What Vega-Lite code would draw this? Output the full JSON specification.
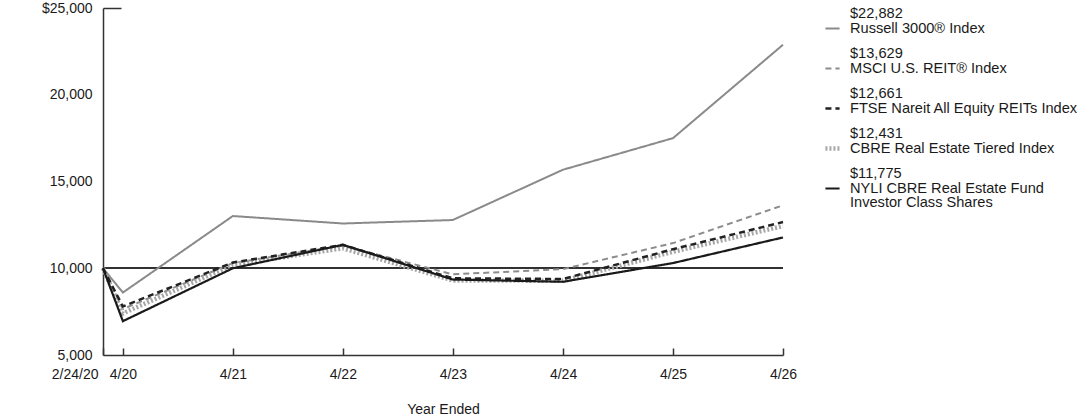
{
  "$schema": "https://vega.github.io/schema/vega-lite/v6.json",
  "width": 680,
  "height": 347,
  "autosize": {"type": "none"},
  "padding": {"left": 103, "top": 8, "right": 309, "bottom": 62},
  "background": "white",
  "config": {
    "font": "Liberation Sans",
    "view": {"stroke": null},
    "axis": {"labelFont": "Liberation Sans", "titleFont": "Liberation Sans", "labelFontSize": 14, "titleFontSize": 14, "labelColor": "#1a1a1a", "titleColor": "#1a1a1a", "titleFontWeight": "normal", "grid": false, "domainColor": "#333333", "domainWidth": 1.5, "tickColor": "#333333", "tickWidth": 1.5}
  },
  "data": {
    "values": [
      {"date": "2020-02-24", "series": "Russell 3000® Index", "value": 10000},
      {"date": "2020-04-30", "series": "Russell 3000® Index", "value": 8600},
      {"date": "2021-04-30", "series": "Russell 3000® Index", "value": 13010},
      {"date": "2022-04-30", "series": "Russell 3000® Index", "value": 12580},
      {"date": "2023-04-30", "series": "Russell 3000® Index", "value": 12780},
      {"date": "2024-04-30", "series": "Russell 3000® Index", "value": 15680},
      {"date": "2025-04-30", "series": "Russell 3000® Index", "value": 17500},
      {"date": "2026-04-30", "series": "Russell 3000® Index", "value": 22882},
      {"date": "2020-02-24", "series": "MSCI U.S. REIT® Index", "value": 10000},
      {"date": "2020-04-30", "series": "MSCI U.S. REIT® Index", "value": 7650},
      {"date": "2021-04-30", "series": "MSCI U.S. REIT® Index", "value": 10300},
      {"date": "2022-04-30", "series": "MSCI U.S. REIT® Index", "value": 11300},
      {"date": "2023-04-30", "series": "MSCI U.S. REIT® Index", "value": 9650},
      {"date": "2024-04-30", "series": "MSCI U.S. REIT® Index", "value": 9950},
      {"date": "2025-04-30", "series": "MSCI U.S. REIT® Index", "value": 11450},
      {"date": "2026-04-30", "series": "MSCI U.S. REIT® Index", "value": 13629},
      {"date": "2020-02-24", "series": "CBRE Real Estate Tiered Index", "value": 10000},
      {"date": "2020-04-30", "series": "CBRE Real Estate Tiered Index", "value": 7400},
      {"date": "2021-04-30", "series": "CBRE Real Estate Tiered Index", "value": 10200},
      {"date": "2022-04-30", "series": "CBRE Real Estate Tiered Index", "value": 11150},
      {"date": "2023-04-30", "series": "CBRE Real Estate Tiered Index", "value": 9300},
      {"date": "2024-04-30", "series": "CBRE Real Estate Tiered Index", "value": 9280},
      {"date": "2025-04-30", "series": "CBRE Real Estate Tiered Index", "value": 10950},
      {"date": "2026-04-30", "series": "CBRE Real Estate Tiered Index", "value": 12431},
      {"date": "2020-02-24", "series": "FTSE Nareit All Equity REITs Index", "value": 10000},
      {"date": "2020-04-30", "series": "FTSE Nareit All Equity REITs Index", "value": 7800},
      {"date": "2021-04-30", "series": "FTSE Nareit All Equity REITs Index", "value": 10330},
      {"date": "2022-04-30", "series": "FTSE Nareit All Equity REITs Index", "value": 11350},
      {"date": "2023-04-30", "series": "FTSE Nareit All Equity REITs Index", "value": 9420},
      {"date": "2024-04-30", "series": "FTSE Nareit All Equity REITs Index", "value": 9380},
      {"date": "2025-04-30", "series": "FTSE Nareit All Equity REITs Index", "value": 11100},
      {"date": "2026-04-30", "series": "FTSE Nareit All Equity REITs Index", "value": 12661},
      {"date": "2020-02-24", "series": "NYLI CBRE Real Estate Fund Investor Class Shares", "value": 10000},
      {"date": "2020-04-30", "series": "NYLI CBRE Real Estate Fund Investor Class Shares", "value": 6950},
      {"date": "2021-04-30", "series": "NYLI CBRE Real Estate Fund Investor Class Shares", "value": 10000},
      {"date": "2022-04-30", "series": "NYLI CBRE Real Estate Fund Investor Class Shares", "value": 11350},
      {"date": "2023-04-30", "series": "NYLI CBRE Real Estate Fund Investor Class Shares", "value": 9350},
      {"date": "2024-04-30", "series": "NYLI CBRE Real Estate Fund Investor Class Shares", "value": 9220},
      {"date": "2025-04-30", "series": "NYLI CBRE Real Estate Fund Investor Class Shares", "value": 10300},
      {"date": "2026-04-30", "series": "NYLI CBRE Real Estate Fund Investor Class Shares", "value": 11775}
    ]
  },
  "encoding": {
    "x": {
      "field": "date", "type": "temporal",
      "scale": {"type": "utc", "domain": [{"year": 2020, "month": 2, "date": 24, "utc": true}, {"year": 2026, "month": 4, "date": 30, "utc": true}], "nice": false},
      "axis": {
        "title": "Year Ended", "titlePadding": 21,
        "values": [
          {"year": 2020, "month": 2, "date": 24, "utc": true},
          {"year": 2020, "month": 4, "date": 30, "utc": true},
          {"year": 2021, "month": 4, "date": 30, "utc": true},
          {"year": 2022, "month": 4, "date": 30, "utc": true},
          {"year": 2023, "month": 4, "date": 30, "utc": true},
          {"year": 2024, "month": 4, "date": 30, "utc": true},
          {"year": 2025, "month": 4, "date": 30, "utc": true},
          {"year": 2026, "month": 4, "date": 30, "utc": true}
        ],
        "labelExpr": "utcmonth(datum.value) == 1 ? '2/24/20' : utcFormat(datum.value, '%-m/%y')",
        "labelAlign": {"condition": {"test": "utcmonth(datum.value) == 1", "value": "right"}, "value": "center"},
        "labelOffset": {"condition": {"test": "utcmonth(datum.value) == 1", "value": -5}, "value": 0},
        "tickSize": -7, "labelPadding": 19, "labelFlush": false, "labelOverlap": false
      }
    },
    "y": {
      "field": "value", "type": "quantitative",
      "scale": {"domain": [5000, 25000], "nice": false, "zero": false},
      "axis": {
        "title": null,
        "values": [5000, 10000, 15000, 20000, 25000],
        "labelExpr": "datum.value == 25000 ? '$25,000' : format(datum.value, ',')",
        "tickSize": -18,
        "tickColor": {"condition": {"test": "datum.value == 25000", "value": "#333333"}, "value": "transparent"},
        "labelPadding": 29
      }
    }
  },
  "layer": [
    {
      "mark": {"type": "rule", "color": "#333333", "strokeWidth": 1.2},
      "encoding": {"y": {"datum": 10000}, "x": null}
    },
    {
      "mark": {"type": "line", "strokeCap": "butt"},
      "encoding": {
        "color": {
          "field": "series", "type": "nominal",
          "scale": {
            "domain": ["Russell 3000® Index", "MSCI U.S. REIT® Index", "FTSE Nareit All Equity REITs Index", "CBRE Real Estate Tiered Index", "NYLI CBRE Real Estate Fund Investor Class Shares"],
            "range": ["#8a8a8a", "#8c8c8c", "#222222", "#a6a6a6", "#1a1a1a"]
          },
          "legend": {
            "title": null, "orient": "none", "legendX": 720, "legendY": 12,
            "symbolType": "stroke", "symbolSize": 200, "labelOffset": 8,
            "labelFontSize": 14.6, "labelColor": "#1a1a1a", "labelLimit": 400, "labelBaseline": "middle",
            "rowPadding": -4, "padding": 0,
            "labelExpr": "datum.label == 'Russell 3000® Index' ? ['$22,882', 'Russell 3000® Index', ''] : datum.label == 'MSCI U.S. REIT® Index' ? ['$13,629', 'MSCI U.S. REIT® Index', ''] : datum.label == 'FTSE Nareit All Equity REITs Index' ? ['$12,661', 'FTSE Nareit All Equity REITs Index', ''] : datum.label == 'CBRE Real Estate Tiered Index' ? ['$12,431', 'CBRE Real Estate Tiered Index', ''] : ['$11,775', 'NYLI CBRE Real Estate Fund', 'Investor Class Shares']",
            "encode": {"labels": {"update": {"lineHeight": {"value": 14.5}, "dy": {"value": -14.5}}}}
          }
        },
        "strokeDash": {
          "field": "series", "type": "nominal",
          "scale": {
            "domain": ["Russell 3000® Index", "MSCI U.S. REIT® Index", "FTSE Nareit All Equity REITs Index", "CBRE Real Estate Tiered Index", "NYLI CBRE Real Estate Fund Investor Class Shares"],
            "range": [[1, 0], [6, 4], [6, 4], [2, 2], [1, 0]]
          }
        },
        "strokeWidth": {
          "field": "series", "type": "nominal",
          "scale": {
            "type": "ordinal",
            "domain": ["Russell 3000® Index", "MSCI U.S. REIT® Index", "FTSE Nareit All Equity REITs Index", "CBRE Real Estate Tiered Index", "NYLI CBRE Real Estate Fund Investor Class Shares"],
            "range": [2, 2, 2.5, 4.5, 2.2]
          }
        }
      }
    }
  ]
}
